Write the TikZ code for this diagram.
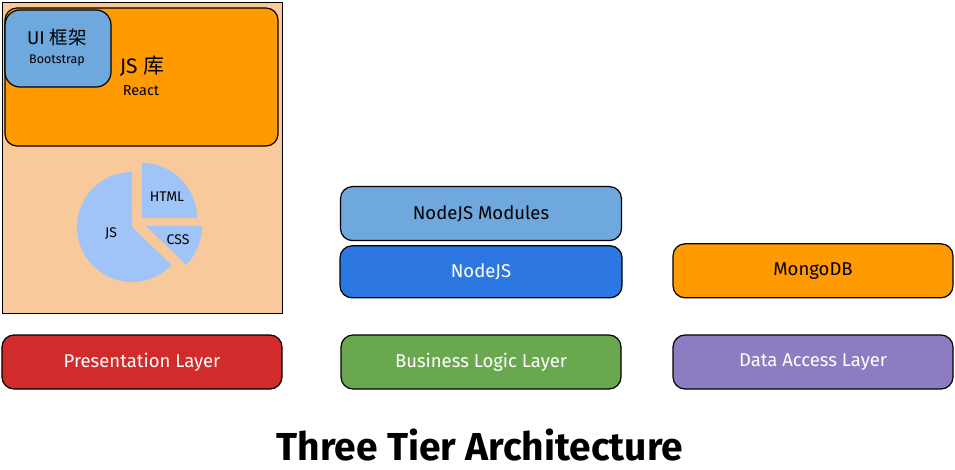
\documentclass[tikz,border=0pt]{standalone}
\usepackage{fontspec}
\setmainfont{Fira Sans}
\newfontfamily\cjk{Noto Sans CJK SC}
\usetikzlibrary{positioning}
\definecolor{peach}{HTML}{F8C99B}
\definecolor{jsorange}{HTML}{FF9A00}
\definecolor{uiblue}{HTML}{6FA8DC}
\definecolor{nodeblue}{HTML}{2C77E2}
\definecolor{pieblue}{HTML}{A0C4F8}
\definecolor{layerred}{HTML}{D12B2B}
\definecolor{layergreen}{HTML}{6AA84F}
\definecolor{layerpurple}{HTML}{8E7CC3}
\def\pieslice[#1](#2)(#3:#4:#5){\fill[#1] (#2) -- ++(#3:#5) arc (#3:#4:#5) -- cycle;}

\begin{document}
\begin{tikzpicture}[x=1pt, y=-1pt,
	box/.style={draw=black, line width=1.2pt, rounded corners=12pt, inner sep=0pt,
		minimum width=280pt, minimum height=54pt, font=\fontsize{18.5}{20}\selectfont},
	layer/.style={box, text=white}]
		%%%%% START %%%%%
		\useasboundingbox (0, 0) rectangle (955, 470);
		
		% presentation tier
		\node[draw=black, line width=0.8pt, fill=peach, minimum width=280pt, minimum height=311pt] (client) at (142, 157.5) {};
		\node[box, fill=jsorange, minimum width=273pt, minimum height=138pt] (jslib) at (141.5, 77) {};
		\node[box, fill=uiblue, rounded corners=15pt, minimum width=106pt, minimum height=77pt] (uilib) at (58, 48.5) {};
		\node[font=\fontsize{18.5}{20}\selectfont] (uititle) at (57, 37) {UI {\cjk 框架}};
		\node[font=\fontsize{12.5}{14}\selectfont] (uisub) at (57, 61) {Bootstrap};
		\node[font=\fontsize{21}{23}\selectfont] (jstitle) at (142, 66) {JS {\cjk 库}};
		\node[font=\fontsize{14.5}{16}\selectfont] (jssub) at (141, 91) {React};
		
		% pie chart
		\pieslice[pieblue](132, 227)(-90:-316:55)
		\pieslice[pieblue](142, 218)(0:-90:55)
		\pieslice[pieblue](146, 226)(44:0:56)
		\node[font=\fontsize{14}{16}\selectfont] (pjs) at (111, 234) {JS};
		\node[font=\fontsize{14}{16}\selectfont] (phtml) at (167, 197) {HTML};
		\node[font=\fontsize{14}{16}\selectfont] (pcss) at (178, 240) {CSS};
		
		% layers
		\node[layer, fill=layerred] (presentation) at (142, 362) {Presentation Layer};
		\node[layer, fill=layergreen] (business) at (481, 362) {Business Logic Layer};
		\node[layer, fill=layerpurple] (data) at (813, 362) {Data Access Layer};
		
		% business tier
		\node[layer, fill=nodeblue, minimum width=282pt, minimum height=52pt, above=36pt of business] (nodejs) {NodeJS};
		\node[box, fill=uiblue, minimum width=281pt, above=4pt of nodejs] (modules) {NodeJS Modules};
		
		% data tier
		\node[box, fill=jsorange, above=36pt of data] (mongodb) {MongoDB};
		
		\node[inner sep=0pt, font=\fontsize{39}{42}\selectfont\bfseries] (title) at (480, 445) {Three Tier Architecture};
		%%%%% END %%%%%
	\end{tikzpicture}
\end{document}
